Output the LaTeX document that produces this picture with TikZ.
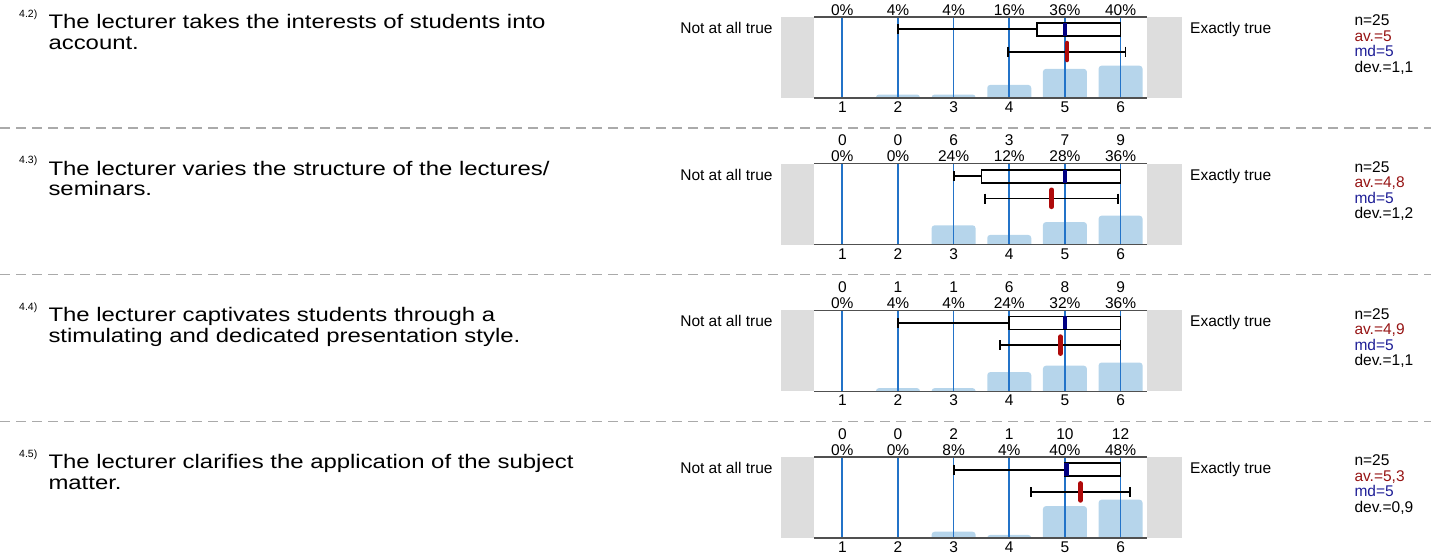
\documentclass[tikz,border=0pt]{standalone}
\usepackage{fontspec}
\setmainfont{Liberation Sans}
\newfontfamily\wideqfont[FakeStretch=1.22]{Liberation Sans}
\usepackage{tikz}
\usetikzlibrary{positioning}

\definecolor{sidegray}{RGB}{221,221,221}
\definecolor{axisgray}{RGB}{80,80,80}
\definecolor{gridblue}{RGB}{35,115,200}
\definecolor{barblue}{RGB}{182,213,235}
\definecolor{mednavy}{RGB}{0,0,130}
\definecolor{meanred}{RGB}{175,10,10}
\definecolor{avred}{RGB}{150,20,20}
\definecolor{mdblue}{RGB}{30,30,150}
\definecolor{sepgray}{RGB}{170,170,170}

\begin{document}
\begin{tikzpicture}[
      x=1pt, y=-1pt,
      sidebox/.style={fill=sidegray},
      axisline/.style={draw=axisgray, line width=1.6pt},
      gridline/.style={draw=gridblue, line width=1.7pt},
      bar/.style={fill=barblue, rounded corners=3pt},
      boxline/.style={draw=black, line width=1.8pt},
      median/.style={fill=mednavy},
      meanmark/.style={draw=meanred, line width=4.6pt, line cap=round},
      sepline/.style={draw=sepgray, line width=1.2pt, dash pattern=on 10pt off 6pt},
      small/.style={font=\fontsize{15.5}{15.5}\selectfont, inner sep=0pt},
      scalelabel/.style={small, anchor=base},
      stat/.style={small, anchor=base west},
      qtext/.style={font=\wideqfont\fontsize{19.6}{20.7}\selectfont, inner sep=0pt, anchor=base west},
      qnum/.style={font=\fontsize{10.5}{11}\selectfont, inner sep=0pt, anchor=base west}
    ]
    \useasboundingbox (0,0) rectangle (1431,557);

    % dashed separators between the questions
    \foreach \k in {0,1,2}
      \draw[sepline] (0,{128+146.8*\k}) -- (1431,{128+146.8*\k});

    % ---------------- 4.2
    \begin{scope}
        \node[qnum] (num42) at (19,17) {4.2)};
        \node[qtext] (q42) at (48.3,28.3) {The lecturer takes the interests of students into};
        \node[qtext, below=20.7pt of q42.base west, anchor=base west] (q42b) {account.};
        \node[small, anchor=base east] (lo42) at (772.7,33.3) {Not at all true};
        \node[small, anchor=base west] (hi42) at (1190,33.3) {Exactly true};
        \fill[sidebox] (780.7,16.7) rectangle (814,97.7);
        \fill[sidebox] (1147.3,16.7) rectangle (1181.5,97.7);
        \begin{scope}
            \clip (814,16.7) rectangle (1147.3,97.7);
            \foreach \v/\p in {2/4,3/4,4/16,5/36,6/40}
              \fill[bar] ({786.65+55.65*\v-22},101.7) rectangle ({786.65+55.65*\v+22},{97.7-0.8*\p});
        \end{scope}
        \foreach \v/\p in {1/0,2/4,3/4,4/16,5/36,6/40} {
            \pgfmathsetmacro\vx{786.65+55.65*\v}
            \draw[gridline] (\vx,16.7) -- (\vx,97.7);
            \node[scalelabel] (pc42-\v) at (\vx,15.1) {\p\%};
            \node[scalelabel] (ax42-\v) at (\vx,112.3) {\v};
        }
        \draw[axisline] (814,16.7) -- (1147.3,16.7);
        \draw[axisline] (814,97.7) -- (1147.3,97.7);
        % box plot
        \draw[boxline] ({786.65+55.65*2},29.3) -- ({786.65+55.65*4.5},29.3);
        \draw[boxline] ({786.65+55.65*2},24.3) -- ({786.65+55.65*2},34.3);
        \draw[boxline] ({786.65+55.65*4.5},22.8) rectangle ({786.65+55.65*6},35.8);
        \fill[median] ({786.65+55.65*5-2.3},22.8) rectangle ({786.65+55.65*5+2.3},35.8);
        % mean and deviation
        \draw[boxline] ({786.65+55.65*3.98},51.7) -- ({786.65+55.65*6.09},51.7);
        \draw[boxline] ({786.65+55.65*3.98},46.7) -- ({786.65+55.65*3.98},56.7);
        \draw[boxline] ({786.65+55.65*6.09},46.7) -- ({786.65+55.65*6.09},56.7);
        \draw[meanmark] ({786.65+55.65*5.04},43) -- ({786.65+55.65*5.04},60);
        % statistics
        \node[stat] (n42) at (1354.3,25.5) {n=25};
        \node[stat, text=avred, below=15.5pt of n42.base west, anchor=base west] (av42) {av.=5};
        \node[stat, text=mdblue, below=15.5pt of av42.base west, anchor=base west] (md42) {md=5};
        \node[stat, below=15.5pt of md42.base west, anchor=base west] (dev42) {dev.=1,1};
    \end{scope}

    % ---------------- 4.3
    \begin{scope}[shift={(0,146.8)}]
        \node[qnum] (num43) at (19,17) {4.3)};
        \node[qtext] (q43) at (48.3,28.3) {The lecturer varies the structure of the lectures/};
        \node[qtext, below=20.7pt of q43.base west, anchor=base west] (q43b) {seminars.};
        \node[small, anchor=base east] (lo43) at (772.7,33.3) {Not at all true};
        \node[small, anchor=base west] (hi43) at (1190,33.3) {Exactly true};
        \fill[sidebox] (780.7,16.7) rectangle (814,97.7);
        \fill[sidebox] (1147.3,16.7) rectangle (1181.5,97.7);
        \begin{scope}
            \clip (814,16.7) rectangle (1147.3,97.7);
            \foreach \v/\p in {3/24,4/12,5/28,6/36}
              \fill[bar] ({786.65+55.65*\v-22},101.7) rectangle ({786.65+55.65*\v+22},{97.7-0.8*\p});
        \end{scope}
        \foreach \v/\c/\p in {1/0/0,2/0/0,3/6/24,4/3/12,5/7/28,6/9/36} {
            \pgfmathsetmacro\vx{786.65+55.65*\v}
            \draw[gridline] (\vx,16.7) -- (\vx,97.7);
            \node[scalelabel] (ct43-\v) at (\vx,-0.9) {\c};
            \node[scalelabel] (pc43-\v) at (\vx,15.1) {\p\%};
            \node[scalelabel] (ax43-\v) at (\vx,112.3) {\v};
        }
        \draw[axisline] (814,16.7) -- (1147.3,16.7);
        \draw[axisline] (814,97.7) -- (1147.3,97.7);
        % box plot
        \draw[boxline] ({786.65+55.65*3},29.3) -- ({786.65+55.65*3.5},29.3);
        \draw[boxline] ({786.65+55.65*3},24.3) -- ({786.65+55.65*3},34.3);
        \draw[boxline] ({786.65+55.65*3.5},22.8) rectangle ({786.65+55.65*6},35.8);
        \fill[median] ({786.65+55.65*5-2.3},22.8) rectangle ({786.65+55.65*5+2.3},35.8);
        % mean and deviation
        \draw[boxline] ({786.65+55.65*3.56},51.7) -- ({786.65+55.65*5.96},51.7);
        \draw[boxline] ({786.65+55.65*3.56},46.7) -- ({786.65+55.65*3.56},56.7);
        \draw[boxline] ({786.65+55.65*5.96},46.7) -- ({786.65+55.65*5.96},56.7);
        \draw[meanmark] ({786.65+55.65*4.76},43) -- ({786.65+55.65*4.76},60);
        % statistics
        \node[stat] (n43) at (1354.3,25.5) {n=25};
        \node[stat, text=avred, below=15.5pt of n43.base west, anchor=base west] (av43) {av.=4,8};
        \node[stat, text=mdblue, below=15.5pt of av43.base west, anchor=base west] (md43) {md=5};
        \node[stat, below=15.5pt of md43.base west, anchor=base west] (dev43) {dev.=1,2};
    \end{scope}

    % ---------------- 4.4
    \begin{scope}[shift={(0,293.6)}]
        \node[qnum] (num44) at (19,17) {4.4)};
        \node[qtext] (q44) at (48.3,28.3) {The lecturer captivates students through a};
        \node[qtext, below=20.7pt of q44.base west, anchor=base west] (q44b) {stimulating and dedicated presentation style.};
        \node[small, anchor=base east] (lo44) at (772.7,33.3) {Not at all true};
        \node[small, anchor=base west] (hi44) at (1190,33.3) {Exactly true};
        \fill[sidebox] (780.7,16.7) rectangle (814,97.7);
        \fill[sidebox] (1147.3,16.7) rectangle (1181.5,97.7);
        \begin{scope}
            \clip (814,16.7) rectangle (1147.3,97.7);
            \foreach \v/\p in {2/4,3/4,4/24,5/32,6/36}
              \fill[bar] ({786.65+55.65*\v-22},101.7) rectangle ({786.65+55.65*\v+22},{97.7-0.8*\p});
        \end{scope}
        \foreach \v/\c/\p in {1/0/0,2/1/4,3/1/4,4/6/24,5/8/32,6/9/36} {
            \pgfmathsetmacro\vx{786.65+55.65*\v}
            \draw[gridline] (\vx,16.7) -- (\vx,97.7);
            \node[scalelabel] (ct44-\v) at (\vx,-0.9) {\c};
            \node[scalelabel] (pc44-\v) at (\vx,15.1) {\p\%};
            \node[scalelabel] (ax44-\v) at (\vx,112.3) {\v};
        }
        \draw[axisline] (814,16.7) -- (1147.3,16.7);
        \draw[axisline] (814,97.7) -- (1147.3,97.7);
        % box plot
        \draw[boxline] ({786.65+55.65*2},29.3) -- ({786.65+55.65*4},29.3);
        \draw[boxline] ({786.65+55.65*2},24.3) -- ({786.65+55.65*2},34.3);
        \draw[boxline] ({786.65+55.65*4},22.8) rectangle ({786.65+55.65*6},35.8);
        \fill[median] ({786.65+55.65*5-2.3},22.8) rectangle ({786.65+55.65*5+2.3},35.8);
        % mean and deviation
        \draw[boxline] ({786.65+55.65*3.84},51.7) -- ({786.65+55.65*6},51.7);
        \draw[boxline] ({786.65+55.65*3.84},46.7) -- ({786.65+55.65*3.84},56.7);
        \draw[boxline] ({786.65+55.65*6},46.7) -- ({786.65+55.65*6},56.7);
        \draw[meanmark] ({786.65+55.65*4.92},43) -- ({786.65+55.65*4.92},60);
        % statistics
        \node[stat] (n44) at (1354.3,25.5) {n=25};
        \node[stat, text=avred, below=15.5pt of n44.base west, anchor=base west] (av44) {av.=4,9};
        \node[stat, text=mdblue, below=15.5pt of av44.base west, anchor=base west] (md44) {md=5};
        \node[stat, below=15.5pt of md44.base west, anchor=base west] (dev44) {dev.=1,1};
    \end{scope}

    % ---------------- 4.5
    \begin{scope}[shift={(0,440.4)}]
        \node[qnum] (num45) at (19,17) {4.5)};
        \node[qtext] (q45) at (48.3,28.3) {The lecturer clarifies the application of the subject};
        \node[qtext, below=20.7pt of q45.base west, anchor=base west] (q45b) {matter.};
        \node[small, anchor=base east] (lo45) at (772.7,33.3) {Not at all true};
        \node[small, anchor=base west] (hi45) at (1190,33.3) {Exactly true};
        \fill[sidebox] (780.7,16.7) rectangle (814,97.7);
        \fill[sidebox] (1147.3,16.7) rectangle (1181.5,97.7);
        \begin{scope}
            \clip (814,16.7) rectangle (1147.3,97.7);
            \foreach \v/\p in {3/8,4/4,5/40,6/48}
              \fill[bar] ({786.65+55.65*\v-22},101.7) rectangle ({786.65+55.65*\v+22},{97.7-0.8*\p});
        \end{scope}
        \foreach \v/\c/\p in {1/0/0,2/0/0,3/2/8,4/1/4,5/10/40,6/12/48} {
            \pgfmathsetmacro\vx{786.65+55.65*\v}
            \draw[gridline] (\vx,16.7) -- (\vx,97.7);
            \node[scalelabel] (ct45-\v) at (\vx,-0.9) {\c};
            \node[scalelabel] (pc45-\v) at (\vx,15.1) {\p\%};
            \node[scalelabel] (ax45-\v) at (\vx,112.3) {\v};
        }
        \draw[axisline] (814,16.7) -- (1147.3,16.7);
        \draw[axisline] (814,97.7) -- (1147.3,97.7);
        % box plot
        \draw[boxline] ({786.65+55.65*3},29.3) -- ({786.65+55.65*5},29.3);
        \draw[boxline] ({786.65+55.65*3},24.3) -- ({786.65+55.65*3},34.3);
        \draw[boxline] ({786.65+55.65*5},22.8) rectangle ({786.65+55.65*6},35.8);
        \fill[median] ({786.65+55.65*5-1},22.8) rectangle ({786.65+55.65*5+3.6},35.8);
        % mean and deviation
        \draw[boxline] ({786.65+55.65*4.39},51.7) -- ({786.65+55.65*6.17},51.7);
        \draw[boxline] ({786.65+55.65*4.39},46.7) -- ({786.65+55.65*4.39},56.7);
        \draw[boxline] ({786.65+55.65*6.17},46.7) -- ({786.65+55.65*6.17},56.7);
        \draw[meanmark] ({786.65+55.65*5.28},43) -- ({786.65+55.65*5.28},60);
        % statistics
        \node[stat] (n45) at (1354.3,25.5) {n=25};
        \node[stat, text=avred, below=15.5pt of n45.base west, anchor=base west] (av45) {av.=5,3};
        \node[stat, text=mdblue, below=15.5pt of av45.base west, anchor=base west] (md45) {md=5};
        \node[stat, below=15.5pt of md45.base west, anchor=base west] (dev45) {dev.=0,9};
    \end{scope}
\end{tikzpicture}
\end{document}
